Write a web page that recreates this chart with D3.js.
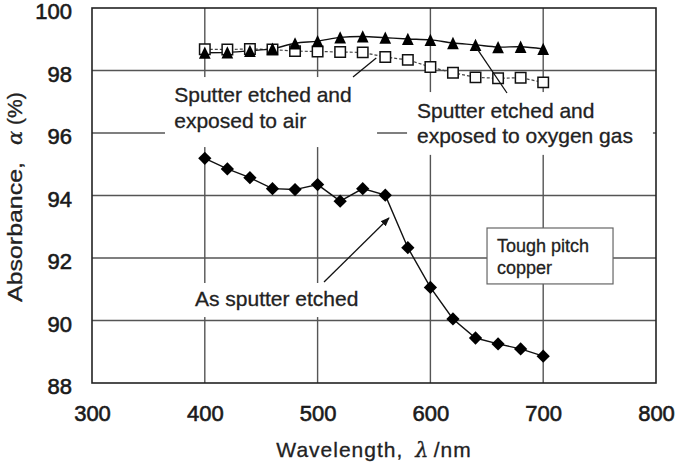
<!DOCTYPE html>
<html>
<head>
<meta charset="utf-8">
<script src="https://cdn.jsdelivr.net/npm/d3@7"></script>
<style>
  html, body { margin: 0; padding: 0; background: #fff; }
  svg { display: block; font-family: "Liberation Sans", Arial, sans-serif; }
</style>
</head>
<body>
<svg id="chart" width="677" height="466"></svg>
<script>
// ---------- data ----------
const wavelengths = [400, 420, 440, 460, 480, 500, 520, 540, 560, 580, 600, 620, 640, 660, 680, 700];
const asSputterEtched = [95.19, 94.85, 94.57, 94.22, 94.19, 94.35, 93.82, 94.22, 94.01, 92.33, 91.06, 90.05, 89.44, 89.25, 89.09, 88.86];
const exposedToOxygen = [98.57, 98.58, 98.63, 98.70, 98.87, 98.94, 99.06, 99.09, 99.05, 99.01, 98.98, 98.88, 98.82, 98.75, 98.76, 98.69];
const exposedToAir = [98.68, 98.67, 98.69, 98.67, 98.62, 98.61, 98.59, 98.58, 98.43, 98.34, 98.11, 97.93, 97.78, 97.75, 97.77, 97.62];
const xTicks = [300, 400, 500, 600, 700, 800];
const yTicks = [88, 90, 92, 94, 96, 98, 100];
const xTitle = "Wavelength,";
const yTitle = "Absorbance,";

// ---------- layout ----------
const W = 677, H = 466;
const margin = { left: 92, top: 8, right: 21, bottom: 83 };
const pw = W - margin.left - margin.right;
const ph = H - margin.top - margin.bottom;

const svg = d3.select("#chart");
const g = svg.append("g").attr("transform", `translate(${margin.left},${margin.top})`);

const x = d3.scaleLinear().domain([300, 800]).range([0, pw]);
const y = d3.scaleLinear().domain([88, 100]).range([ph, 0]);

// ---------- grid ----------
const gridCol = "#555";
g.append("g").selectAll("line.h").data(yTicks.slice(1, -1)).join("line")
  .attr("x1", 0).attr("x2", pw)
  .attr("y1", d => y(d)).attr("y2", d => y(d))
  .attr("stroke", gridCol).attr("stroke-width", 1.4);
g.append("g").selectAll("line.v").data(xTicks.slice(1, -1)).join("line")
  .attr("y1", 0).attr("y2", ph)
  .attr("x1", d => x(d)).attr("x2", d => x(d))
  .attr("stroke", gridCol).attr("stroke-width", 1.4);

// ---------- axes (labels) ----------
const yAxis = d3.axisLeft(y).tickValues(yTicks).tickSize(0).tickPadding(20);
const yg = g.append("g").call(yAxis);
yg.select(".domain").remove();
yg.selectAll("text").attr("font-size", 22).attr("fill", "#1a1a1a")
  .attr("stroke", "#1a1a1a").attr("stroke-width", 0.6)
  .attr("font-family", "'Liberation Sans', Arial, sans-serif").attr("dy", "0.68em")
  .attr("y", -4);

const xAxis = d3.axisBottom(x).tickValues(xTicks).tickSize(0).tickPadding(22);
const xg = g.append("g").attr("transform", `translate(0,${ph})`).call(xAxis);
xg.select(".domain").remove();
xg.selectAll("text").attr("font-size", 22).attr("fill", "#1a1a1a")
  .attr("stroke", "#1a1a1a").attr("stroke-width", 0.6)
  .attr("font-family", "'Liberation Sans', Arial, sans-serif");

// ---------- annotation backgrounds (white boxes hide grid) ----------
function box(x0, x1, yTop, yBot, stroke) {
  g.append("rect")
    .attr("x", x(x0)).attr("y", y(yTop))
    .attr("width", x(x1) - x(x0)).attr("height", y(yBot) - y(yTop))
    .attr("fill", "#fff")
    .attr("stroke", stroke || "none").attr("stroke-width", 1.2);
}
box(364.7, 552.7, 97.79, 95.55);      // exposed to air
box(579.3, 797.3, 97.31, 95.30);      // exposed to oxygen
box(382.4, 549.1, 91.20, 90.11);      // as sputter etched
box(650.2, 761.9, 92.96, 91.17, "#666"); // tough pitch copper

function label(lines, x0, baselines, size) {
  lines.forEach((t, i) => {
    g.append("text").attr("x", x(x0)).attr("y", y(baselines[i]))
      .attr("font-size", size).attr("fill", "#222")
      .attr("stroke", "#222").attr("stroke-width", 0.3).text(t);
  });
}
label(["Sputter etched and", "exposed to air"], 372.9, [97.00, 96.16], 21);
label(["Sputter etched and", "exposed to oxygen gas"], 588.1, [96.47, 95.67], 21);
label(["As sputter etched"], 391.3, [90.46], 21);
label(["Tough pitch", "copper"], 659.0, [92.20, 91.49], 18);

// ---------- series ----------
function series(vals) { return wavelengths.map((w, i) => ({ w, v: vals[i] })); }
const line = d3.line().x(d => x(d.w)).y(d => y(d.v)).curve(d3.curveCatmullRom.alpha(0.5));
const straight = d3.line().x(d => x(d.w)).y(d => y(d.v));

g.append("path").datum(series(exposedToAir)).attr("d", straight)
  .attr("fill", "none").attr("stroke", "#444").attr("stroke-width", 1.2)
  .attr("stroke-dasharray", "3,2");
g.append("path").datum(series(exposedToOxygen)).attr("d", line)
  .attr("fill", "none").attr("stroke", "#111").attr("stroke-width", 1.4);
g.append("path").datum(series(asSputterEtched)).attr("d", straight)
  .attr("fill", "none").attr("stroke", "#111").attr("stroke-width", 1.4);

// markers
const centeredTriangle = {
  draw(ctx, size) {
    const w = Math.sqrt(size * 2 / 1.05), h = w * 1.05;
    ctx.moveTo(0, -h / 2); ctx.lineTo(w / 2, h / 2); ctx.lineTo(-w / 2, h / 2); ctx.closePath();
  }
};
g.append("g").selectAll("path").data(series(exposedToAir)).join("path")
  .attr("d", d3.symbol(d3.symbolSquare, 110))
  .attr("transform", d => `translate(${x(d.w)},${y(d.v)})`)
  .attr("fill", "#fff").attr("stroke", "#111").attr("stroke-width", 1.5);
g.append("g").selectAll("path").data(series(exposedToOxygen)).join("path")
  .attr("d", d3.symbol(centeredTriangle, 72))
  .attr("transform", d => `translate(${x(d.w)},${y(d.v)})`)
  .attr("fill", "#000");
g.append("g").selectAll("path").data(series(asSputterEtched)).join("path")
  .attr("d", d3.symbol(d3.symbolSquare, 88))
  .attr("transform", d => `translate(${x(d.w)},${y(d.v)}) rotate(45)`)
  .attr("fill", "#000");

// ---------- arrows ----------
svg.append("defs").append("marker").attr("id", "ah")
  .attr("viewBox", "0 0 10 10").attr("refX", 9).attr("refY", 5)
  .attr("markerWidth", 7).attr("markerHeight", 7).attr("orient", "auto")
  .append("path").attr("d", "M0,1 L10,5 L0,9 z").attr("fill", "#111");
function arrow(x0, y0, x1, y1, head) {
  const l = g.append("line").attr("x1", x(x0)).attr("y1", y(y0)).attr("x2", x(x1)).attr("y2", y(y1))
    .attr("stroke", "#111").attr("stroke-width", 1.3);
  if (head) l.attr("marker-end", "url(#ah)");
}
arrow(531.4, 97.79, 552.0, 98.40, false);
arrow(640.4, 98.75, 667.9, 97.28, false);
arrow(505.7, 91.23, 563.3, 93.28, true);

// ---------- frame ----------
g.append("rect").attr("x", 0).attr("y", 0).attr("width", pw).attr("height", ph)
  .attr("fill", "none").attr("stroke", "#222").attr("stroke-width", 1.6);

// ---------- axis titles ----------
const xt = svg.append("text").attr("x", margin.left + pw / 2).attr("y", 457)
  .attr("text-anchor", "middle").attr("font-size", 21).attr("fill", "#222")
  .attr("letter-spacing", 1)
  .attr("stroke", "#222").attr("stroke-width", 0.3);
xt.append("tspan").text(xTitle);
xt.append("tspan").attr("dx", 12).attr("font-style", "italic").attr("font-family", "'DejaVu Serif', serif").text("λ");
xt.append("tspan").attr("dx", 4).text("/nm");

const yt = svg.append("text")
  .attr("transform", `translate(22,302) rotate(-90)`)
  .attr("text-anchor", "start").attr("font-size", 21).attr("fill", "#222")
  .attr("stroke", "#222").attr("stroke-width", 0.3);
yt.append("tspan").attr("textLength", 140).attr("lengthAdjust", "spacingAndGlyphs").text(yTitle);
yt.append("tspan").attr("x", 157).attr("font-style", "italic").attr("font-family", "'DejaVu Serif', serif").text("α");
yt.append("tspan").attr("x", 177).text("(%)");
</script>
</body>
</html>
